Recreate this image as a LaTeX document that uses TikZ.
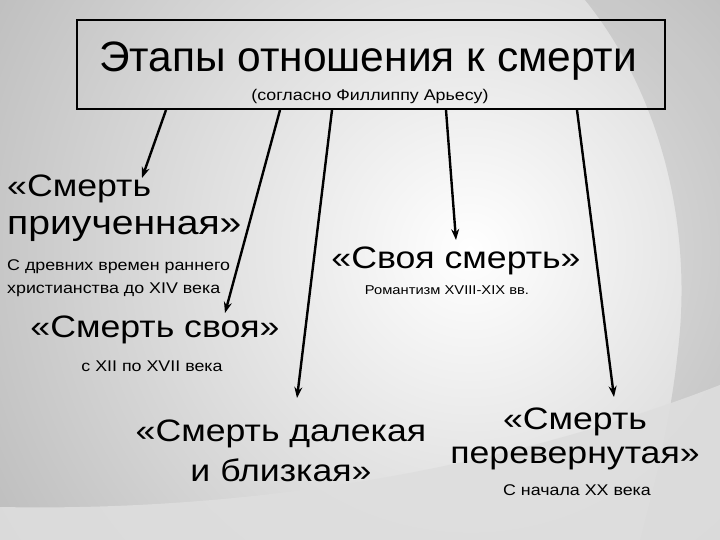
\documentclass[tikz,border=0pt]{standalone}
\usepackage{fontspec}
\usepackage{tikz}
\usetikzlibrary{arrows.meta,positioning}
\setmainfont{Liberation Sans}
\newfontfamily\wideface{Liberation Sans}[FakeStretch=1.15]
\definecolor{slate}{HTML}{A0A0A0}
\definecolor{mist} {HTML}{DEDEDE}
\newcommand{\headsize}{\fontsize{42.5}{48}\selectfont}
\newcommand{\subsize} {\wideface\fontsize{15.5}{18}\selectfont}
\newcommand{\bigsize} {\wideface\fontsize{31}{34}\selectfont}
\newcommand{\notesize}{\wideface\fontsize{15.5}{23}\selectfont}

\begin{document}
\begin{tikzpicture}[x=1pt, y=-1pt,
  stage/.style={font=\bigsize, inner sep=0pt},
  note/.style={font=\notesize, inner sep=0pt},
  arr/.style={-{Stealth[length=11pt, width=8pt]}, line width=2.4pt}]
  \useasboundingbox (0,0) rectangle (720,540);
  % background
  \begin{scope}
    \clip (0,0) rectangle (720,540);
    \fill[slate] (0,0) rectangle (720,540);
    \shade[inner color=white, outer color=slate] (470,250) circle (800pt);
    \fill[black, opacity=0.09] (585,0) .. controls (650,80) and (690,200) .. (680,330)
      .. controls (672,420) and (655,480) .. (640,540) -- (720,540) -- (720,0) -- cycle;
    \fill[mist, opacity=0.9] (0,507) .. controls (250,512) and (500,470) .. (720,385)
      -- (720,540) -- (0,540) -- cycle;
  \end{scope}

  % header box
  \node[draw, line width=2pt, minimum width=588pt, minimum height=89pt,
    inner sep=0pt] (box) at (371,64.5) {};
  \node[font=\headsize, inner sep=0pt, anchor=base] (title) at (368,71.7)
    {Этапы отношения к смерти};
  \node[font=\subsize, inner sep=0pt, anchor=base] (sub) at (370,100.7)
    {(согласно Филлиппу Арьесу)};

  % stages (base = last line)
  \node[stage, align=left, anchor=base west] (tamed) at (7,235)
    {«Смерть\\[5pt]{\fontsize{34}{34}\selectfont приученная»}};
  \node[note, align=left, anchor=base west] (tamednote) at (7,293)
    {С древних времен раннего\\христианства до XIV века};
  \node[stage, anchor=base] (own) at (155,337) {«Смерть своя»};
  \node[note, anchor=base] (ownnote) at (152,371.7) {с XII по XVII века};
  \node[stage, anchor=base] (ownb) at (456,268) {«Своя смерть»};
  \node[note, font=\wideface\fontsize{12.8}{15}\selectfont, anchor=base]
    (ownbnote) at (447,294) {Романтизм XVIII-XIX вв.};
  \node[stage, align=center, anchor=base] (far) at (281,481)
    {«Смерть далекая\\[6pt]и близкая»};
  \node[stage, align=center, anchor=base] (inv) at (575,463)
    {«Смерть\\перевернутая»};
  \node[note, anchor=base] (invnote) at (577,495) {С начала XX века};

  % arrows
  \coordinate (tip1) at (142,178);
  \coordinate (tip2) at (225,313);
  \coordinate (tip3) at (297,398);
  \coordinate (tip4) at (456,240);
  \coordinate (tip5) at (614,397);
  \draw[arr] ([xshift=-205pt]box.south) -- (tip1);
  \draw[arr] ([xshift=-91pt]box.south) -- (tip2);
  \draw[arr] ([xshift=-39pt]box.south) -- (tip3);
  \draw[arr] ([xshift=75pt]box.south) -- (tip4);
  \draw[arr] ([xshift=206pt]box.south) -- (tip5);
\end{tikzpicture}
\end{document}
